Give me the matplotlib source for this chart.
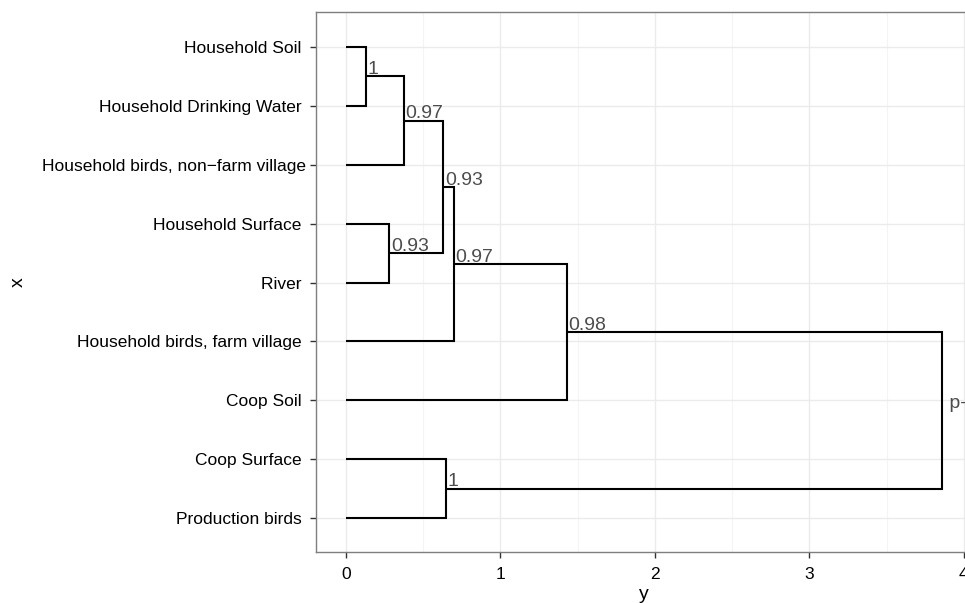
import numpy as np
import matplotlib
matplotlib.use("Agg")
import matplotlib.pyplot as plt

plt.rcParams['font.family'] = ['Liberation Sans', 'DejaVu Sans']

# leaves, top to bottom
leaves = ["Household Soil ", "Household Drinking Water ", "Household birds, non\u2212farm village",
          "Household Surface ", "River ", "Household birds, farm village ",
          "Coop Soil ", "Coop Surface ", "Production birds "]

# merges: left child, right child, height, support label
# children: ("leaf", index) or ("node", index)
merge_left = [("leaf", 0), ("node", 0), ("leaf", 3), ("node", 1), ("node", 3), ("node", 4), ("leaf", 7), ("node", 5)]
merge_right = [("leaf", 1), ("leaf", 2), ("leaf", 4), ("node", 2), ("leaf", 5), ("leaf", 6), ("leaf", 8), ("node", 6)]
merge_height = [0.13, 0.375, 0.28, 0.63, 0.70, 1.43, 0.65, 3.86]
merge_label = ["1", "0.97", "0.93", "0.93", "0.97", "0.98", "1", " p-value"]

n = len(leaves)
leaf_pos = np.arange(n, 0, -1)  # 9 .. 1

fig = plt.figure(figsize=(9.65, 6.03), dpi=100)
ax = fig.add_axes([0.3275, 0.0851, 0.6798, 0.8945])

node_pos = []
node_h = []


def get(child):
    kind, i = child
    if kind == "leaf":
        return leaf_pos[i], 0.0
    return node_pos[i], node_h[i]


for k in range(len(merge_height)):
    ya, xa = get(merge_left[k])
    yb, xb = get(merge_right[k])
    h = merge_height[k]
    ax.plot([xa, h, h, xb], [ya, ya, yb, yb], color='black', lw=1.5, solid_capstyle='butt',
            solid_joinstyle='miter', zorder=3)
    ym = (ya + yb) / 2
    node_pos.append(ym)
    node_h.append(h)
    ax.annotate(merge_label[k], (h, ym), xytext=(1.2, 1.6), textcoords='offset points',
                ha='left', va='baseline', fontsize=14, color='#4d4d4d', zorder=4)

ax.set_xlim(-0.193, 4.053)
ax.set_ylim(0.43, 9.59)
ax.set_xticks([0, 1, 2, 3, 4])
ax.set_xticks([0.5, 1.5, 2.5, 3.5], minor=True)
ax.set_yticks(leaf_pos)
ax.set_yticklabels(leaves)
ax.grid(True, which='major', color='#ebebeb', lw=1.0, zorder=0)
ax.grid(True, which='minor', axis='x', color='#f4f4f4', lw=0.8, zorder=0)
ax.set_axisbelow(True)
ax.tick_params(axis='both', which='major', length=4, width=1, color='#333333',
               labelsize=12.5, labelcolor='black')
ax.tick_params(axis='x', pad=7)
ax.tick_params(axis='y', pad=3)
ax.tick_params(which='minor', length=0)
for s in ax.spines.values():
    s.set_color('#7f7f7f')
    s.set_linewidth(1.0)

ax.set_xlabel('y', fontsize=14, labelpad=3)
ax.set_ylabel('x', fontsize=14, labelpad=11)

fig.savefig('out.png', dpi=100)
